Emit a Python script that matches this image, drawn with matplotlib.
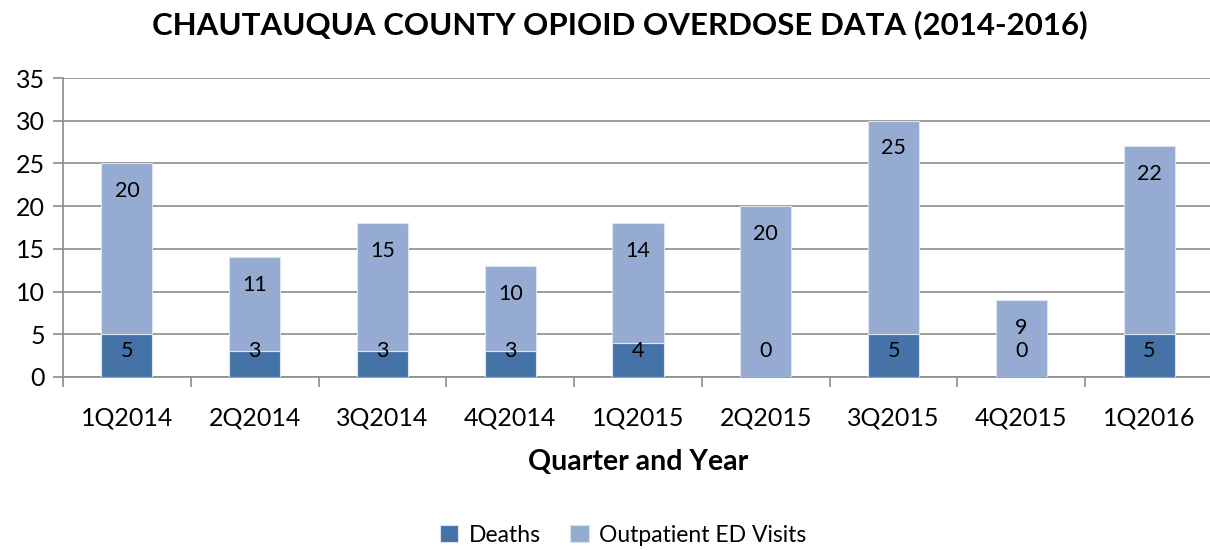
import matplotlib.pyplot as plt
import numpy as np

plt.rcParams['font.family'] = ['Lato', 'DejaVu Sans']

quarters = ['1Q2014', '2Q2014', '3Q2014', '4Q2014', '1Q2015',
            '2Q2015', '3Q2015', '4Q2015', '1Q2016']
deaths = [5, 3, 3, 3, 4, 0, 5, 0, 5]
outpatient = [20, 11, 15, 10, 14, 20, 25, 9, 22]

c_deaths = '#4572a7'
c_outpt = '#95abd2'
grid_c = '#8c8c8c'

fig = plt.figure(figsize=(12.1, 5.5), dpi=100)
# axes: left 63px, right ~1213px, top 78px, bottom 377px
ax = fig.add_axes([63 / 1210, 1 - 377 / 550, 1150 / 1210, 299 / 550])

x = np.arange(len(quarters))
bars_d = ax.bar(x, deaths, width=0.4, color=c_deaths, edgecolor='#dce4f0',
                linewidth=0.8, label='Deaths', zorder=3)
tops = [d + o for d, o in zip(deaths, outpatient)]
bars_o = ax.bar(x, outpatient, width=0.4, bottom=deaths, color=c_outpt,
                edgecolor='#dce4f0', linewidth=0.8, label='Outpatient ED Visits', zorder=3)

# data labels (Excel style: outpatient inside end, deaths near base)
for i in range(len(quarters)):
    ax.annotate(str(outpatient[i]), (x[i], tops[i]), xytext=(0, -20),
                textcoords='offset points', ha='center', va='center',
                fontsize=15.5, color='black', zorder=4)
    ax.annotate(str(deaths[i]), (x[i], 0), xytext=(0, 19),
                textcoords='offset points', ha='center', va='center',
                fontsize=15.5, color='black', zorder=4)

ax.set_xlim(-0.5, 8.5)
ax.set_ylim(0, 35)
ax.set_yticks(range(0, 36, 5))
ax.yaxis.grid(True, color=grid_c, linewidth=1.2, zorder=0)
ax.set_axisbelow(True)

# ticks between categories on the x axis
ax.set_xticks(np.arange(-0.5, 9, 1))
ax.set_xticklabels([])
ax.set_xticks(x, minor=True)
ax.set_xticklabels(quarters, minor=True, fontsize=18)
ax.tick_params(axis='x', which='minor', length=0, pad=21)
ax.tick_params(axis='x', which='major', length=7, width=1.2, color=grid_c)
ax.tick_params(axis='y', length=7, width=1.2, color=grid_c, labelsize=18, pad=6)

for s in ['top', 'right']:
    ax.spines[s].set_visible(False)
for s in ['left', 'bottom']:
    ax.spines[s].set_color(grid_c)
    ax.spines[s].set_linewidth(1.2)

ax.set_xlabel('Quarter and Year', fontsize=20.5, fontweight='bold', labelpad=14)
fig.text(0.512, 0.955, 'CHAUTAUQUA COUNTY OPIOID OVERDOSE DATA (2014-2016)',
         ha='center', va='center', fontsize=22.5, fontweight='bold')

fig.legend(handles=[bars_d, bars_o], loc='center', bbox_to_anchor=(0.515, 0.027),
           ncol=2, frameon=False, fontsize=16.5, handlelength=0.8, handleheight=0.8,
           handletextpad=0.45, columnspacing=1.3)

fig.savefig('out.png', dpi=100)
